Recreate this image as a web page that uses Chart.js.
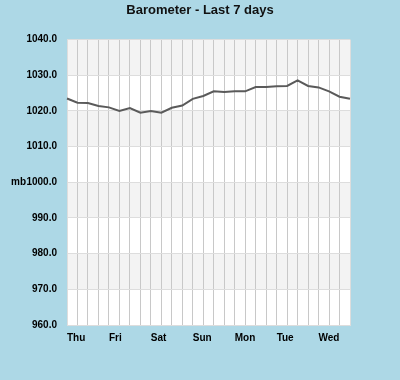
<!DOCTYPE html>
<html>
<head>
<meta charset="utf-8">
<script src="https://cdn.jsdelivr.net/npm/chart.js@4.4.1/dist/chart.umd.min.js"></script>
<style>
  body { margin: 0; background: #add8e6; }
  #wrap { width: 400px; height: 380px; }
</style>
</head>
<body>
<div id="wrap"><canvas id="baro" width="400" height="380"></canvas></div>
<script>
// one reading every 6 hours, starting Thu 00:00
const days = ['Thu', 'Fri', 'Sat', 'Sun', 'Mon', 'Tue', 'Wed'];
const pressure = [
  1023.5, 1022.3, 1022.2, 1021.4,
  1021.0, 1020.0, 1020.8, 1019.5,
  1020.0, 1019.5, 1020.9, 1021.5,
  1023.4, 1024.2, 1025.5, 1025.3,
  1025.5, 1025.5, 1026.7, 1026.7,
  1026.9, 1027.0, 1028.6, 1027.0,
  1026.6, 1025.5, 1024.0, 1023.4
];
const yMin = 960, yMax = 1040, yStep = 10;

const labels = pressure.map((v, i) => (i % 4 === 0 ? days[i / 4] : ''));

// grey/white bands behind the grid
const bands = {
  id: 'bands',
  beforeDraw(chart) {
    const { ctx, chartArea: a, scales: { y } } = chart;
    ctx.save();
    ctx.fillStyle = '#ffffff';
    ctx.fillRect(a.left, a.top, a.right - a.left, a.bottom - a.top);
    ctx.fillStyle = '#f3f3f3';
    let k = 0;
    for (let v = yMax; v > yMin; v -= yStep) {
      if (k % 2 === 0) {
        const t = y.getPixelForValue(v), b = y.getPixelForValue(v - yStep);
        ctx.fillRect(a.left, t, a.right - a.left, b - t);
      }
      k++;
    }
    ctx.restore();
  },
  afterDraw(chart) {
    const { ctx, scales: { y } } = chart;
    ctx.save();
    ctx.font = 'bold 10px "Liberation Sans", Arial, sans-serif';
    ctx.fillStyle = '#000';
    ctx.textAlign = 'right';
    ctx.textBaseline = 'middle';
    ctx.fillText('mb', 26, y.getPixelForValue(1000));
    ctx.restore();
  }
};

const tickFont = { family: '"Liberation Sans", Arial, sans-serif', size: 10, weight: 'bold' };

new Chart(document.getElementById('baro'), {
  type: 'line',
  data: {
    labels: labels,
    datasets: [{
      data: pressure,
      borderColor: '#5a5a5a',
      borderWidth: 2,
      pointRadius: 0,
      tension: 0,
      fill: false
    }]
  },
  options: {
    responsive: false,
    animation: false,
    layout: { padding: 0 },
    plugins: {
      legend: { display: false },
      tooltip: { enabled: false },
      title: {
        display: true,
        text: 'Barometer - Last 7 days',
        color: '#111',
        font: { family: '"Liberation Sans", Arial, sans-serif', size: 13, weight: 'bold' },
        padding: { top: 3, bottom: 21 }
      }
    },
    scales: {
      x: {
        type: 'category',
        offset: false,
        afterFit: s => { s.height = 55; },
        grid: {
          drawTicks: false,
          color: c => (c.index === 0 || c.index === pressure.length - 1 ? '#dddddd' : '#c8c8c8'),
          lineWidth: 1
        },
        border: { color: '#dddddd' },
        ticks: {
          autoSkip: false,
          maxRotation: 0,
          align: 'start',
          padding: 7,
          color: '#000',
          font: tickFont
        }
      },
      y: {
        min: yMin,
        max: yMax,
        afterFit: s => { s.width = 67; },
        grid: { drawTicks: false, color: '#dddddd' },
        border: { color: '#dddddd' },
        ticks: {
          stepSize: yStep,
          padding: 10,
          color: '#000',
          font: tickFont,
          callback: v => v.toFixed(1)
        }
      },
      // empty strip on the right so the plot stops at x=350
      spacer: {
        type: 'linear',
        position: 'right',
        afterFit: s => { s.width = 50; },
        grid: { display: false },
        border: { display: false },
        ticks: { display: false }
      }
    }
  },
  plugins: [bands]
});
</script>
</body>
</html>
